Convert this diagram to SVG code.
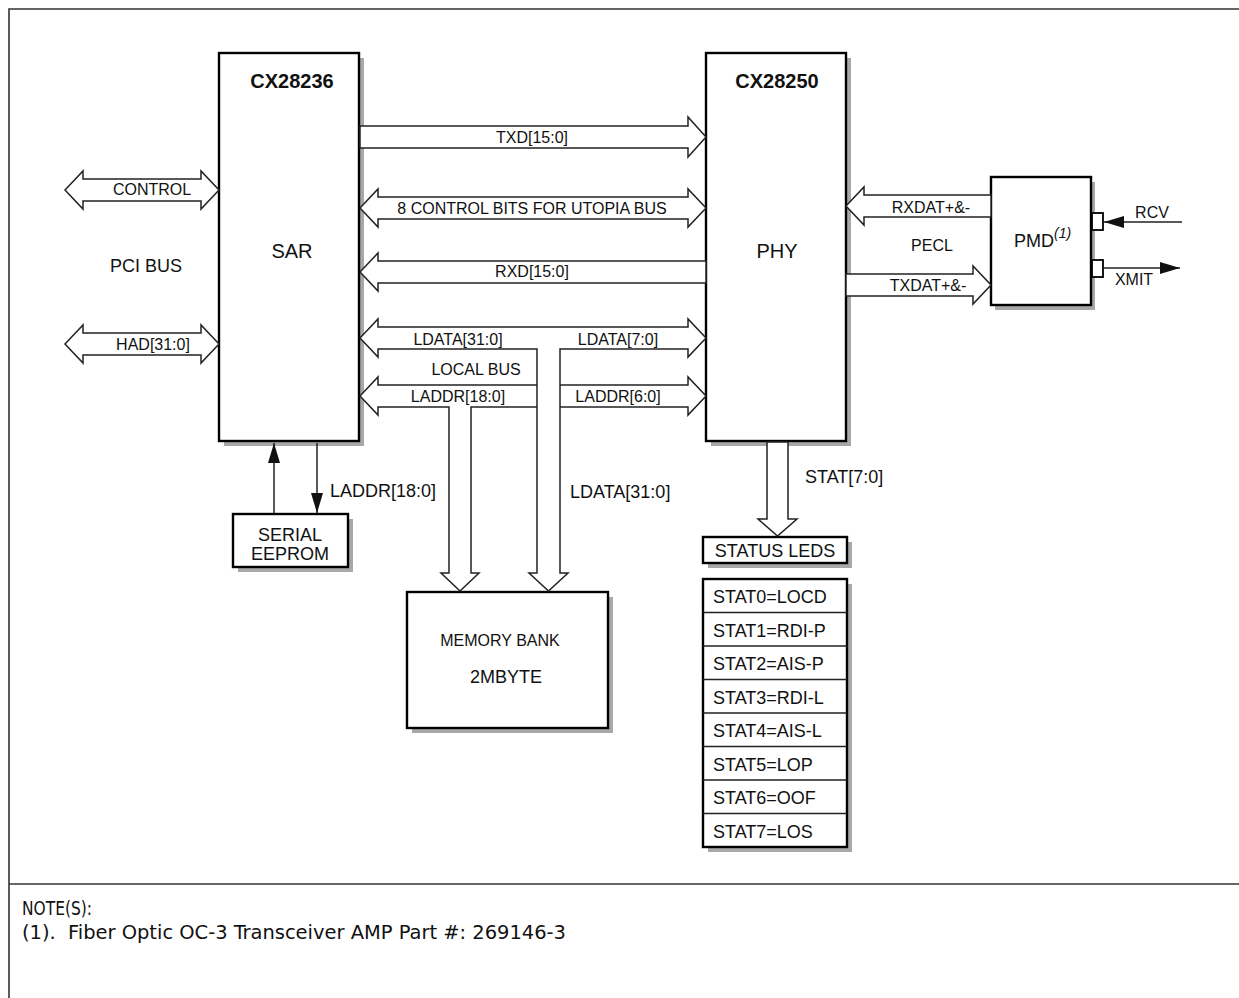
<svg xmlns="http://www.w3.org/2000/svg" width="1239" height="998" viewBox="0 0 1239 998">
<defs>
<style>
.frame{fill:none;stroke:#333;stroke-width:1.6}
.shadow{fill:#a8a8a8;stroke:none}
.box{fill:#fff;stroke:#000;stroke-width:2.4}
.bus{fill:#fff;stroke:#222;stroke-width:1.5;stroke-linejoin:miter}
.wire{fill:none;stroke:#222;stroke-width:1.5}
.t{font-family:"Liberation Sans",Arial,sans-serif;fill:#111}
.s16{font-size:16px}
.s18{font-size:18px}
.s20{font-size:20px}
.b{font-weight:bold}
.mid{text-anchor:middle}
.note{font-family:"Liberation Sans Narrow","DejaVu Sans Condensed","Liberation Sans",sans-serif;font-size:20px;fill:#111}
</style>
<marker id="ah" viewBox="0 0 20 12" refX="20" refY="6" markerWidth="20" markerHeight="12" markerUnits="userSpaceOnUse" orient="auto">
<path d="M0,0 L20,6 L0,12 Z" fill="#111"/>
</marker>
</defs>

<g id="frame">
<path class="frame" d="M1245,9 H9 V1005"/>
<path class="frame" d="M9,884 H1245"/>
</g>

<g id="sar">
<rect class="shadow" x="224" y="58" width="140" height="388"/>
<rect class="box" x="219" y="53" width="140" height="388"/>
<text class="t s20 b mid" x="292" y="88">CX28236</text>
<text class="t s20 mid" x="292" y="258">SAR</text>
</g>

<g id="phy">
<rect class="shadow" x="711" y="58" width="140" height="388"/>
<rect class="box" x="706" y="53" width="140" height="388"/>
<text class="t s20 b mid" x="777" y="88">CX28250</text>
<text class="t s20 mid" x="777" y="258">PHY</text>
</g>

<g id="pmd">
<rect class="shadow" x="995" y="182" width="100" height="128"/>
<rect class="box" x="991" y="177" width="100" height="128"/>
<rect class="box" x="1092" y="213" width="11" height="17" style="stroke-width:1.8"/>
<rect class="box" x="1092" y="260" width="11" height="17" style="stroke-width:1.8"/>
<text class="t s18" x="1014" y="247">PMD<tspan font-size="14" font-style="italic" dy="-9">(1)</tspan></text>
</g>

<g id="eeprom">
<rect class="shadow" x="238" y="519" width="115" height="53"/>
<rect class="box" x="233" y="514" width="115" height="53"/>
<text class="t s18 mid" x="290" y="541">SERIAL</text>
<text class="t s18 mid" x="290" y="560">EEPROM</text>
</g>

<g id="memory">
<rect class="shadow" x="412" y="597" width="201" height="136"/>
<rect class="box" x="407" y="592" width="201" height="136"/>
<text class="t s16 mid" x="500" y="646">MEMORY BANK</text>
<text class="t s18 mid" x="506" y="683">2MBYTE</text>
</g>

<g id="status-leds">
<rect class="shadow" x="708" y="542" width="144" height="26"/>
<rect class="box" x="703" y="537" width="144" height="26"/>
<text class="t s18 mid" x="775" y="557">STATUS LEDS</text>
</g>

<g id="status-list">
<rect class="shadow" x="708" y="584" width="144" height="268"/>
<rect class="box" x="703" y="579" width="144" height="268"/>
<path class="wire" d="M703,612.5 H847 M703,646 H847 M703,679.5 H847 M703,713 H847 M703,746.5 H847 M703,780 H847 M703,813.5 H847"/>
<text class="t s18" x="713" y="603">STAT0=LOCD</text>
<text class="t s18" x="713" y="636.5">STAT1=RDI-P</text>
<text class="t s18" x="713" y="670">STAT2=AIS-P</text>
<text class="t s18" x="713" y="703.5">STAT3=RDI-L</text>
<text class="t s18" x="713" y="737">STAT4=AIS-L</text>
<text class="t s18" x="713" y="770.5">STAT5=LOP</text>
<text class="t s18" x="713" y="804">STAT6=OOF</text>
<text class="t s18" x="713" y="837.5">STAT7=LOS</text>
</g>

<g id="connectors">
<polygon class="bus" points="65,190 83,171 83,179 201,179 201,171 219,190 201,209 201,201 83,201 83,209"/>
<polygon class="bus" points="65,344 83,325 83,333 201,333 201,325 219,344 201,363 201,355 83,355 83,363"/>
<polygon class="bus" points="360,126 688,126 688,117 706,137 688,157 688,148 360,148"/>
<polygon class="bus" points="360,208 378,189 378,197 688,197 688,189 706,208 688,227 688,219 378,219 378,227"/>
<polygon class="bus" points="360,272 378,253 378,261 706,261 706,283 378,283 378,291"/>
<polygon class="bus" points="360,396 378,377 378,385 688,385 688,377 706,396 688,415 688,407 471,407 471,573 479,573 460,591 441,573 449,573 449,407 378,407 378,415"/>
<polygon class="bus" points="360,338 378,319 378,327 688,327 688,319 706,338 688,357 688,349 560,349 560,573 568,573 548.5,591 529,573 537,573 537,349 378,349 378,357"/>
<polygon class="bus" points="846,206 864,187 864,195 991,195 991,217 864,217 864,225"/>
<polygon class="bus" points="846,274 973,274 973,266 991,285 973,304 973,296 846,296"/>
<polygon class="bus" points="767,442 767,519 758,519 777.5,536 797,519 788,519 788,442"/>
<line class="wire" x1="274" y1="513" x2="274" y2="443" marker-end="url(#ah)"/>
<line class="wire" x1="317" y1="443" x2="317" y2="513" marker-end="url(#ah)"/>
<line class="wire" x1="1182" y1="222" x2="1104" y2="222" marker-end="url(#ah)"/>
<line class="wire" x1="1104" y1="268" x2="1180" y2="268" marker-end="url(#ah)"/>
</g>

<g id="labels">
<text class="t s16 mid" x="152" y="195">CONTROL</text>
<text class="t s18 mid" x="146" y="272">PCI BUS</text>
<text class="t s16 mid" x="153" y="350">HAD[31:0]</text>
<text class="t s16 mid" x="532" y="143">TXD[15:0]</text>
<text class="t s16 mid" x="532" y="214">8 CONTROL BITS FOR UTOPIA BUS</text>
<text class="t s16 mid" x="532" y="277">RXD[15:0]</text>
<text class="t s16 mid" x="458" y="345">LDATA[31:0]</text>
<text class="t s16 mid" x="618" y="345">LDATA[7:0]</text>
<text class="t s16 mid" x="476" y="375">LOCAL BUS</text>
<text class="t s16 mid" x="458" y="402">LADDR[18:0]</text>
<text class="t s16 mid" x="618" y="402">LADDR[6:0]</text>
<text class="t s18" x="330" y="497">LADDR[18:0]</text>
<text class="t s18" x="570" y="498">LDATA[31:0]</text>
<text class="t s18" x="805" y="483">STAT[7:0]</text>
<text class="t s16 mid" x="931" y="213">RXDAT+&amp;-</text>
<text class="t s16 mid" x="932" y="251">PECL</text>
<text class="t s16 mid" x="928" y="291">TXDAT+&amp;-</text>
<text class="t s16 mid" x="1152" y="218">RCV</text>
<text class="t s16 mid" x="1134" y="285">XMIT</text>
<text class="note" x="22" y="915" textLength="70" lengthAdjust="spacingAndGlyphs">NOTE(S):</text>
<text class="note" x="22" y="939" textLength="544" lengthAdjust="spacingAndGlyphs" xml:space="preserve">(1).  Fiber Optic OC-3 Transceiver AMP Part #: 269146-3</text>
</g>
</svg>
